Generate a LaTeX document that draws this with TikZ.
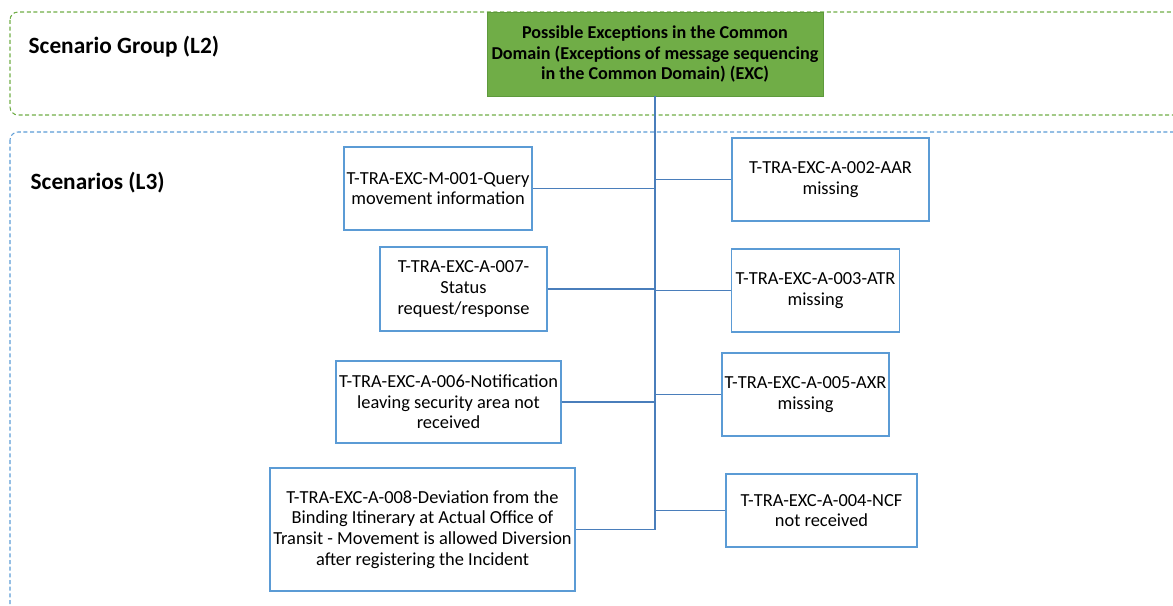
\documentclass[tikz,border=0pt]{standalone}
\usepackage{fontspec}
\setmainfont{Carlito}
\usetikzlibrary{positioning}
\definecolor{groupgreen}{HTML}{70AD47}
\definecolor{greenedge}{HTML}{5E9A3C}
\definecolor{scenblue}{HTML}{5B9BD5}
\definecolor{linkblue}{HTML}{4A7EBB}

\begin{document}
\begin{tikzpicture}[x=0.75pt,y=-0.75pt, every node/.style={font=\fontsize{13.8}{15.5}\selectfont,align=center}, scen/.style={draw=scenblue,fill=white,line width=0.9pt,inner sep=1pt}, sz/.style 2 args={minimum width=#1*0.75pt,minimum height=#2*0.75pt}, level/.style={rounded corners=6pt,dash pattern=on 3pt off 2pt,line width=0.8pt}, lvl/.style={font=\fontsize{17.5}{20}\selectfont\bfseries,anchor=west}, link/.style={draw=linkblue,line width=1pt}]
\useasboundingbox (0,0) rectangle (1173,606);
% level frames
\draw[level,draw=groupgreen] (10,12) rectangle (1200,115);
\draw[level,draw=scenblue] (10,132) rectangle (1200,640);
\node[lvl] (groupl) at (24,47) {Scenario Group (L2)};
\node[lvl] (scenl) at (26,183) {Scenarios (L3)};
% scenario group
\node[draw=greenedge,fill=groupgreen,sz={334}{84},font=\fontsize{13.6}{15.5}\selectfont\bfseries] (root) at (655,54) {Possible Exceptions in the Common\\Domain (Exceptions of message sequencing\\in the Common Domain) (EXC)};
% scenarios, left column
\node[scen,sz={188}{83}] (m001) at (438,188.5) {T-TRA-EXC-M-001-Query\\movement information};
\node[scen,sz={167}{84}] (a007) at (463.5,289) {T-TRA-EXC-A-007-\\Status\\request/response};
\node[scen,sz={225}{82}] (a006) at (448.5,402) {T-TRA-EXC-A-006-Notification\\leaving security area not\\received};
\node[scen,sz={305}{123}] (a008) at (422.5,529.5) {T-TRA-EXC-A-008-Deviation from the\\Binding Itinerary at Actual Office of\\Transit - Movement is allowed Diversion\\after registering the Incident};
% scenarios, right column
\node[scen,sz={197}{83}] (a002) at (830.5,179.5) {T-TRA-EXC-A-002-AAR\\missing};
\node[scen,sz={168}{83}] (a003) at (815.5,290.5) {T-TRA-EXC-A-003-ATR\\missing};
\node[scen,sz={167}{83}] (a005) at (805.5,394.5) {T-TRA-EXC-A-005-AXR\\missing};
\node[scen,sz={191}{73}] (a004) at (821.5,510.5) {T-TRA-EXC-A-004-NCF\\not received};
% tree lines
\draw[link] (root.south)--(root.south |- a008.east);
\foreach \s in {m001,a007,a006,a008} \draw[link] (\s.east)--(\s.east -| root.south);
\foreach \s in {a002,a003,a005,a004} \draw[link] (\s.west)--(\s.west -| root.south);
\end{tikzpicture}
\end{document}
